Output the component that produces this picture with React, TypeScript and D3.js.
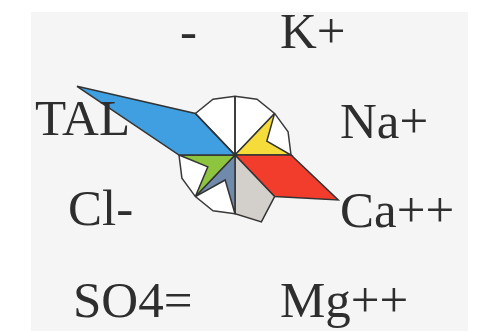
import React from 'react';
import * as d3 from 'd3';

// sectors clockwise from north, Maucha layout
const ions = ['K+', 'Na+', 'Ca++', 'Mg++', 'SO4=', 'Cl-', 'TAL', '-'];
// share of total equivalents, %
const shares = [0, 7.5, 24.3, 15.0, 5.6, 6.4, 37.2, 0];
const colors = ['none', '#f6dc3a', '#f23c2c', '#d3d0cb', '#6f8aab', '#8dc53f', '#3f9fe0', 'none'];

// label positions (start x, baseline)
const labelPos: [number, number][] = [
  [280, 48], [340, 138], [340, 227], [280, 317],
  [73, 317], [68, 225], [35, 135], [180, 48],
];

const W = 483;
const H = 331;
const cx = 235;
const cy = 155;
const R = 56;
const sy = 1.05;

function App() {
  const step = (2 * Math.PI) / ions.length;
  // kite area = R * a * sin(step/2) = share * pi R^2
  const apex = d3.scaleLinear()
    .domain([0, 100])
    .range([0, (Math.PI * R) / Math.sin(step / 2)]);

  const pt = (ang: number, d: number): [number, number] =>
    [cx + d * Math.sin(ang), cy - sy * d * Math.cos(ang)];

  const kite = (i: number, share: number): [number, number][] => {
    const a0 = i * step;
    return [
      [cx, cy],
      pt(a0, R),
      pt(a0 + step / 2, apex(share)),
      pt(a0 + step, R),
    ];
  };

  const line = d3.line().curve(d3.curveLinearClosed);

  // reference circle: every ion at an equal share
  const ring: [number, number][] = [];
  ions.forEach((_, i) => {
    ring.push(pt(i * step, R));
    ring.push(pt(i * step + step / 2, apex(100 / ions.length)));
  });

  return (
    <svg width={W} height={H} style={{ position: 'absolute', left: 0, top: 0 }}>
      <rect width={W} height={H} fill="#fff" />
      <rect x={31} y={12} width={437} height={H - 12} fill="#f5f5f5" />
      <path d={line(ring) || ''} fill="#fff" stroke="#3a3a3a" strokeWidth={1.5} />
      {ions.map((ion, i) => (
        <path
          key={ion}
          d={line(kite(i, shares[i])) || ''}
          fill={colors[i]}
          stroke="#333"
          strokeWidth={1.5}
          strokeLinejoin="miter"
        />
      ))}
      {ions.map((ion, i) => (
        <text
          key={'t' + ion}
          x={labelPos[i][0]}
          y={labelPos[i][1]}
          fontFamily="'Liberation Serif', serif"
          fontSize={51}
          fill="#2e2e2e"
        >
          {ion}
        </text>
      ))}
    </svg>
  );
}

export default App;
